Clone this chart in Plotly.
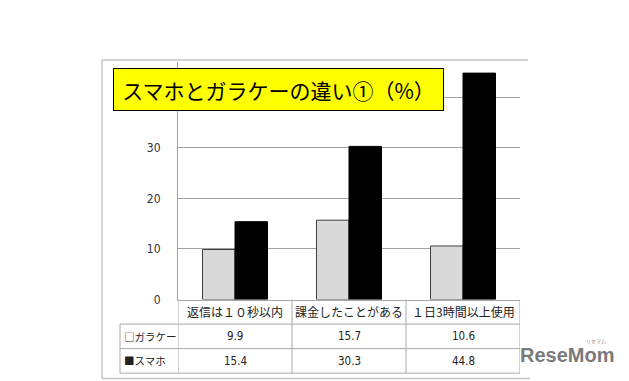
import plotly.graph_objects as go

categories = ["返信は１０秒以内", "課金したことがある", "１日3時間以上使用"]
garakei = [9.9, 15.7, 10.6]
sumaho = [15.4, 30.3, 44.8]
series_names = ["□ガラケー", "■スマホ"]
y_ticks = [0, 10, 20, 30, 40]
y_tick_text = ["0", "10", "20", "30", ""]  # 40 is hidden behind the title box
title_text = "スマホとガラケーの違い①（%）"

W, H = 629, 381
OFFX = 8  # page body margin offset (horizontal)
OFFY = 0

def px(x):
    return (x - OFFX) / W

def py(y):
    return 1 - (y - OFFY) / H

FONT = "Noto Sans CJK JP"
GRID = "#a0a0a0"
TAB = "#a8a8a8"

fig = go.Figure()
fig.add_trace(go.Bar(x=categories, y=garakei, name=series_names[0],
                     marker=dict(color="#d9d9d9", line=dict(color="#404040", width=1))))
fig.add_trace(go.Bar(x=categories, y=sumaho, name=series_names[1],
                     marker=dict(color="#000000", line=dict(color="#000000", width=1))))

shapes = []
# outer frame (top, left, bottom)
shapes.append(dict(type="line", xref="paper", yref="paper", x0=px(102), x1=px(528), y0=py(53), y1=py(53),
                   line=dict(color="#c4c4c4", width=1.5)))
shapes.append(dict(type="line", xref="paper", yref="paper", x0=px(102), x1=px(102), y0=py(53), y1=py(377),
                   line=dict(color="#c4c4c4", width=1.5)))
shapes.append(dict(type="line", xref="paper", yref="paper", x0=px(102), x1=px(530), y0=py(377.5), y1=py(377.5),
                   line=dict(color="#c4c4c4", width=1.5)))
# table horizontal lines
for yy in [322, 347, 372]:
    shapes.append(dict(type="line", xref="paper", yref="paper", x0=px(120), x1=px(520), y0=py(yy), y1=py(yy),
                       line=dict(color=TAB, width=1)))
# table left border
shapes.append(dict(type="line", xref="paper", yref="paper", x0=px(120), x1=px(120), y0=py(322), y1=py(372),
                   line=dict(color=TAB, width=1)))
# column dividers at category boundaries
for i in range(len(categories) + 1):
    shapes.append(dict(type="line", xref="x", yref="paper", x0=i - 0.5, x1=i - 0.5, y0=py(297), y1=py(372),
                       line=dict(color=TAB, width=1)))

annotations = []
# title box
annotations.append(dict(text=title_text, xref="paper", yref="paper", x=px(278.5), y=py(83.5),
                        xanchor="center", yanchor="middle", showarrow=False,
                        font=dict(family=FONT, size=21, color="#000000"),
                        bgcolor="#ffff00", bordercolor="#000000", borderwidth=1,
                        width=327, height=39, borderpad=1))
# header labels
for c in categories:
    annotations.append(dict(text=c, xref="x", yref="paper", x=c, y=py(309.5), showarrow=False,
                            xanchor="center", yanchor="middle",
                            font=dict(family=FONT, size=12, color="#222222")))
# row labels and values
rows = [(series_names[0], garakei, 334.5), (series_names[1], sumaho, 359.5)]
for name, vals, yc in rows:
    annotations.append(dict(text=name, xref="paper", yref="paper", x=px(122), y=py(yc), showarrow=False,
                            xanchor="left", yanchor="middle",
                            font=dict(family=FONT, size=10.5, color="#222222")))
    for c, v in zip(categories, vals):
        annotations.append(dict(text=f"{v:.1f}", xref="x", yref="paper", x=c, y=py(yc), showarrow=False,
                                xanchor="center", yanchor="middle",
                                font=dict(family="Liberation Sans Narrow, DejaVu Sans Condensed", size=11.5, color="#222222")))
# logo
annotations.append(dict(text="<b>ReseMom</b>", xref="paper", yref="paper", x=px(567), y=py(354), showarrow=False,
                        xanchor="center", yanchor="middle",
                        font=dict(family="Liberation Sans", size=20, color="#7a7a7a")))
annotations.append(dict(text="リセマム", xref="paper", yref="paper", x=px(596), y=py(339), showarrow=False,
                        xanchor="center", yanchor="middle",
                        font=dict(family=FONT, size=5, color="#888888")))

fig.update_layout(
    width=W, height=H,
    margin=dict(l=0, r=0, t=0, b=0),
    paper_bgcolor="white", plot_bgcolor="white",
    showlegend=False,
    barmode="group", bargap=0.43, bargroupgap=0,
    shapes=shapes, annotations=annotations,
    xaxis=dict(domain=[px(178), px(520)], type="category", showticklabels=False, ticks="",
               showline=True, linecolor=TAB, linewidth=1, showgrid=False, zeroline=False,
               range=[-0.5, 2.5]),
    yaxis=dict(domain=[py(297), py(55)], range=[0, 47], tickvals=y_ticks, ticktext=y_tick_text,
               showgrid=True, gridcolor=GRID, gridwidth=1.3, zeroline=False,
               showline=True, linecolor="#a0a0a0", linewidth=1,
               ticks="", ticklabelstandoff=14,
               tickfont=dict(family="Liberation Sans Narrow, DejaVu Sans Condensed", size=12, color="#333333")),
)

fig.write_html("out.html")
